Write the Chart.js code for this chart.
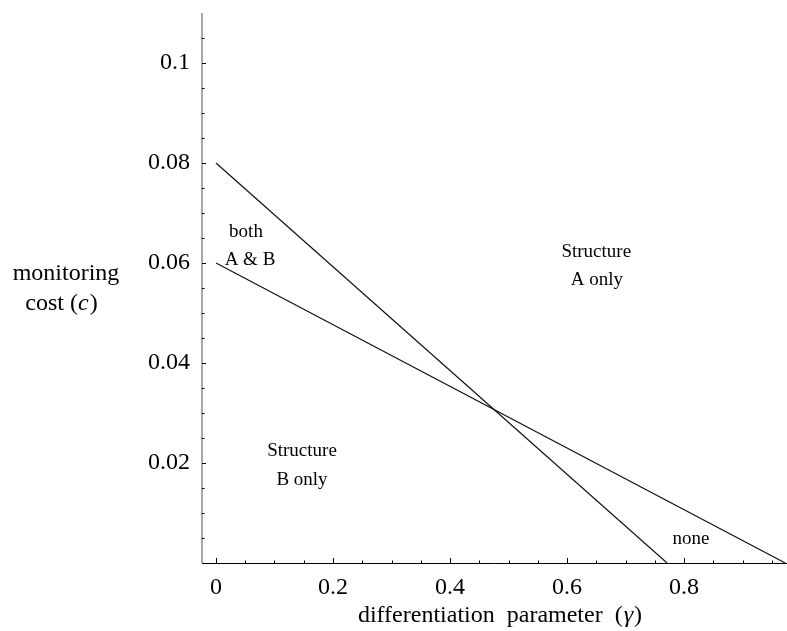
<!DOCTYPE html>
<html>
<head>
<meta charset="utf-8">
<script src="https://cdn.jsdelivr.net/npm/chart.js@4"></script>
<style>
  body { margin: 0; background: #fff; }
  #wrap { width: 787px; height: 631px; }
</style>
</head>
<body>
<div id="wrap"><canvas id="myChart" width="787" height="631"></canvas></div>
<script>
// boundary lines
const gammaUpper = [0, 0.771];
const costUpper = [0.08, 0];
const gammaLower = [0, 0.973];
const costLower = [0.06, 0];

// ticks
const xTicks = [0, 0.05, 0.1, 0.15, 0.2, 0.25, 0.3, 0.35, 0.4, 0.45, 0.5, 0.55, 0.6, 0.65, 0.7, 0.75, 0.8, 0.85, 0.9, 0.95];
const xTickLabels = ["0", "0.2", "0.4", "0.6", "0.8"];
const yTicks = [0.005, 0.01, 0.015, 0.02, 0.025, 0.03, 0.035, 0.04, 0.045, 0.05, 0.055, 0.06, 0.065, 0.07, 0.075, 0.08, 0.085, 0.09, 0.095, 0.1, 0.105];
const yTickLabels = ["0.02", "0.04", "0.06", "0.08", "0.1"];

// region names
const regionText = ["both", "A & B", "Structure", "A only", "Structure", "B only", "none"];
const regionGamma = [0.0513, 0.0581, 0.650, 0.651, 0.147, 0.147, 0.812];
const regionCost = [0.0652, 0.0596, 0.0612, 0.0556, 0.0214, 0.0156, 0.0038];

const serif = "'Liberation Serif', 'Times New Roman', serif";

function fmt(v) {
  return String(Math.round(v * 1000) / 1000);
}

function toPoints(xs, ys) {
  return xs.map((x, i) => ({ x: x, y: ys[i] }));
}

const extras = {
  id: "extras",
  afterDraw(chart) {
    const ctx = chart.ctx;
    const xs = chart.scales.x;
    const ys = chart.scales.y;
    const area = chart.chartArea;
    ctx.save();

    // axes
    ctx.strokeStyle = "#8a8a8a";
    ctx.lineWidth = 1.5;
    ctx.beginPath();
    ctx.moveTo(area.left, area.top);
    ctx.lineTo(area.left, area.bottom);
    ctx.stroke();
    ctx.strokeStyle = "#000";
    ctx.lineWidth = 1;
    ctx.beginPath();
    ctx.moveTo(area.left, area.bottom + 0.5);
    ctx.lineTo(area.right, area.bottom + 0.5);
    ctx.stroke();

    // inward tick marks
    ctx.lineWidth = 1;
    ctx.strokeStyle = "#000";
    yTicks.forEach((v) => {
      const p = Math.round(ys.getPixelForValue(v)) + 0.5;
      const len = yTickLabels.includes(fmt(v)) ? 4 : 2.5;
      ctx.beginPath();
      ctx.moveTo(area.left, p);
      ctx.lineTo(area.left + len, p);
      ctx.stroke();
    });
    xTicks.forEach((v) => {
      const p = Math.round(xs.getPixelForValue(v)) + 0.5;
      const len = xTickLabels.includes(fmt(v)) ? 5 : 2.5;
      ctx.beginPath();
      ctx.moveTo(p, area.bottom);
      ctx.lineTo(p, area.bottom - len);
      ctx.stroke();
    });

    // region labels
    ctx.fillStyle = "#000";
    ctx.font = "19px " + serif;
    ctx.textAlign = "center";
    ctx.textBaseline = "alphabetic";
    regionText.forEach((t, i) => {
      ctx.fillText(t, xs.getPixelForValue(regionGamma[i]), ys.getPixelForValue(regionCost[i]));
    });

    // y title, horizontal in two lines
    ctx.font = "24px " + serif;
    ctx.fillText("monitoring", 66, 280);
    const a = "cost", b = " (", c = "c", d = ")";
    ctx.textAlign = "left";
    ctx.font = "24px " + serif;
    const wa = ctx.measureText(a).width, wb = ctx.measureText(b).width, wd = ctx.measureText(d).width;
    ctx.font = "italic 24px " + serif;
    const wc = ctx.measureText(c).width;
    let x0 = 61 - (wa + wb + wc + wd) / 2;
    ctx.font = "24px " + serif;
    ctx.fillText(a, x0, 310);
    ctx.fillText(b, x0 + wa, 310);
    ctx.font = "italic 24px " + serif;
    ctx.fillText(c, x0 + wa + wb, 310);
    ctx.font = "24px " + serif;
    ctx.fillText(d, x0 + wa + wb + wc + 1, 310);

    // x title
    const t1 = "differentiation  parameter  (", t2 = "\u03b3", t3 = ")";
    ctx.font = "24px " + serif;
    const w1 = ctx.measureText(t1).width, w3 = ctx.measureText(t3).width;
    ctx.font = "italic 24px " + serif;
    const w2 = ctx.measureText(t2).width;
    let x1 = 499 - (w1 + w2 + w3) / 2;
    ctx.font = "24px " + serif;
    ctx.fillText(t1, x1, 622);
    ctx.font = "italic 24px " + serif;
    ctx.fillText(t2, x1 + w1 + 1, 622);
    ctx.font = "24px " + serif;
    ctx.fillText(t3, x1 + w1 + w2 + 2, 622);

    ctx.restore();
  }
};

const ctx = document.getElementById("myChart").getContext("2d");
const myChart = new Chart(ctx, {
  type: "scatter",
  data: {
    datasets: [
      {
        data: toPoints(gammaUpper, costUpper),
        showLine: true,
        borderColor: "#111",
        borderWidth: 1.2,
        pointRadius: 0,
      },
      {
        data: toPoints(gammaLower, costLower),
        showLine: true,
        borderColor: "#111",
        borderWidth: 1.2,
        pointRadius: 0,
      },
    ],
  },
  options: {
    responsive: false,
    animation: false,
    layout: { padding: { top: 13, right: 0, left: 0, bottom: 0 } },
    plugins: {
      legend: { display: false },
      tooltip: { enabled: false },
    },
    scales: {
      x: {
        type: "linear",
        min: -0.0239,
        max: 0.976,
        grid: { display: false, drawTicks: false },
        border: { display: false },
        afterBuildTicks: (scale) => {
          scale.ticks = xTicks.map((v) => ({ value: v }));
        },
        afterFit: (scale) => {
          scale.height = 68;
          scale.paddingLeft = 0;
          scale.paddingRight = 0;
        },
        ticks: {
          autoSkip: false,
          maxRotation: 0,
          padding: 10,
          color: "#000",
          font: { family: serif, size: 24 },
          callback: (v) => (xTickLabels.includes(fmt(v)) ? fmt(v) : ""),
        },
      },
      y: {
        type: "linear",
        min: 0,
        max: 0.11,
        grid: { display: false, drawTicks: false },
        border: { display: false },
        afterBuildTicks: (scale) => {
          scale.ticks = yTicks.map((v) => ({ value: v }));
        },
        afterFit: (scale) => {
          scale.width = 202;
          scale.paddingTop = 0;
          scale.paddingBottom = 0;
        },
        ticks: {
          autoSkip: false,
          padding: 12,
          color: "#000",
          font: { family: serif, size: 24 },
          callback: (v) => (yTickLabels.includes(fmt(v)) ? fmt(v) : ""),
        },
      },
    },
  },
  plugins: [extras],
});
</script>
</body>
</html>
